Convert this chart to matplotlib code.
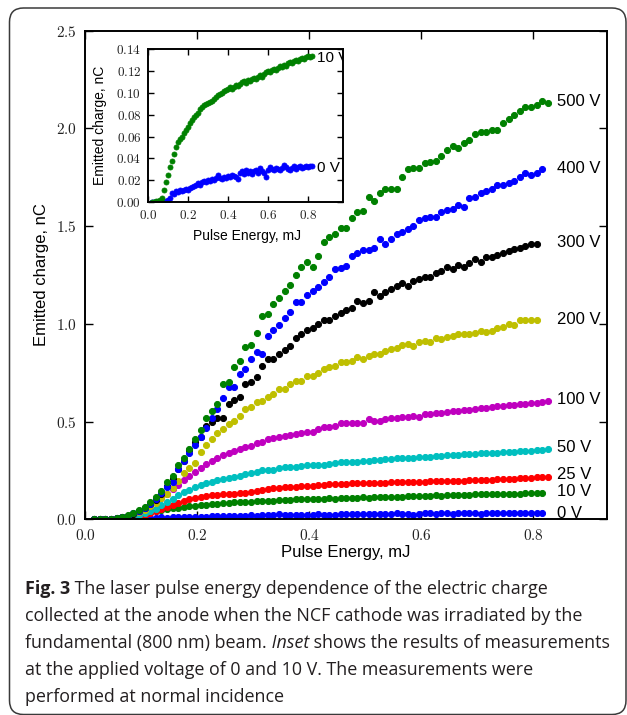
import matplotlib
matplotlib.use('Agg')
import matplotlib.pyplot as plt
from matplotlib.patches import FancyBboxPatch
from matplotlib.transforms import IdentityTransform
from matplotlib.ticker import FixedLocator, FuncFormatter

plt.rcParams['mathtext.fontset'] = 'cm'
SANS = 'Liberation Sans'
CAP = 'Open Sans'

# ---------------- data ----------------
energy_mj = [0.016, 0.026, 0.036, 0.046, 0.056, 0.066, 0.076, 0.086, 0.096, 0.106,
             0.116, 0.126, 0.136, 0.146, 0.156, 0.166, 0.176, 0.186, 0.196, 0.206,
             0.216, 0.226, 0.236, 0.246, 0.256, 0.266, 0.276, 0.286, 0.296, 0.306,
             0.316, 0.326, 0.336, 0.346, 0.356, 0.366, 0.376, 0.386, 0.396, 0.406,
             0.416, 0.426, 0.436, 0.446, 0.456, 0.466, 0.476, 0.486, 0.496, 0.506,
             0.516, 0.526, 0.536, 0.546, 0.556, 0.566, 0.576, 0.586, 0.596, 0.606,
             0.616, 0.626, 0.636, 0.646, 0.656, 0.666, 0.676, 0.686, 0.696, 0.706,
             0.716, 0.726, 0.736, 0.746, 0.756, 0.766, 0.776, 0.786, 0.796, 0.806,
             0.816, 0.826]

q_0V = [0.0, 0.0, 0.0, 0.0, 0.0, 0.0, 0.0, 0.001,
        0.002, 0.004, 0.008, 0.007, 0.010, 0.009, 0.011, 0.010, 0.011, 0.012,
        0.011, 0.013, 0.014, 0.015, 0.016, 0.017, 0.016, 0.018, 0.019, 0.018,
        0.020, 0.019, 0.021, 0.020, 0.022, 0.025, 0.022, 0.021, 0.023, 0.022,
        0.024, 0.023, 0.025, 0.024, 0.023, 0.021, 0.027, 0.028, 0.026, 0.029,
        0.027, 0.028, 0.026, 0.028, 0.029, 0.027, 0.031, 0.028, 0.027, 0.023,
        0.029, 0.032, 0.030, 0.029, 0.031, 0.030, 0.029, 0.031, 0.034, 0.032,
        0.030, 0.029, 0.031, 0.033, 0.030, 0.032, 0.033, 0.031, 0.032, 0.033,
        0.032, 0.033, 0.033]

q_10V = [0.0, 0.0, 0.001, 0.001, 0.002, 0.004, 0.011, 0.018,
         0.025, 0.032, 0.038, 0.044, 0.050, 0.055, 0.058, 0.060, 0.063, 0.066,
         0.069, 0.072, 0.075, 0.078, 0.080, 0.082, 0.085, 0.087, 0.089, 0.090,
         0.091, 0.092, 0.093, 0.094, 0.096, 0.098, 0.099, 0.100, 0.102, 0.103,
         0.104, 0.105, 0.104, 0.105, 0.107, 0.106, 0.108, 0.110, 0.111, 0.109,
         0.112, 0.111, 0.113, 0.114, 0.113, 0.115, 0.116, 0.115, 0.117, 0.119,
         0.120, 0.119, 0.121, 0.122, 0.121, 0.123, 0.125, 0.124, 0.126, 0.125,
         0.127, 0.128, 0.127, 0.129, 0.130, 0.129, 0.131, 0.132, 0.131, 0.133,
         0.134, 0.133, 0.134]

q_25V = [0.0, 0.0, 0.0, 0.001, 0.002, 0.004, 0.007, 0.011,
         0.017, 0.024, 0.032, 0.042, 0.053, 0.064, 0.075, 0.085, 0.095, 0.103,
         0.110, 0.116, 0.120, 0.123, 0.126, 0.128, 0.130, 0.132, 0.134, 0.136,
         0.138, 0.145, 0.150, 0.153, 0.159, 0.162, 0.164, 0.167, 0.167, 0.170,
         0.172, 0.172, 0.176, 0.176, 0.179, 0.179, 0.181, 0.181, 0.184, 0.184,
         0.184, 0.187, 0.184, 0.187, 0.187, 0.189, 0.189, 0.192, 0.192, 0.192,
         0.192, 0.192, 0.194, 0.195, 0.195, 0.197, 0.197, 0.198, 0.198, 0.200,
         0.200, 0.201, 0.202, 0.203, 0.205, 0.205, 0.207, 0.208, 0.209, 0.211,
         0.213, 0.214, 0.215, 0.218]

q_50V = [0.0, 0.0, 0.001, 0.002, 0.004, 0.007, 0.011, 0.016,
         0.023, 0.032, 0.043, 0.055, 0.072, 0.088, 0.105, 0.122, 0.138, 0.152,
         0.165, 0.176, 0.185, 0.193, 0.200, 0.206, 0.212, 0.218, 0.224, 0.230,
         0.235, 0.244, 0.250, 0.252, 0.252, 0.261, 0.266, 0.266, 0.269, 0.272,
         0.278, 0.278, 0.278, 0.278, 0.281, 0.290, 0.291, 0.291, 0.295, 0.295,
         0.298, 0.298, 0.303, 0.303, 0.307, 0.307, 0.312, 0.312, 0.315, 0.315,
         0.317, 0.317, 0.320, 0.324, 0.324, 0.327, 0.329, 0.331, 0.334, 0.335,
         0.336, 0.337, 0.339, 0.340, 0.341, 0.343, 0.344, 0.346, 0.348, 0.350,
         0.351, 0.353, 0.355, 0.360]

q_100V = [0.0, 0.0, 0.001, 0.003, 0.006, 0.010, 0.017, 0.026,
          0.038, 0.053, 0.070, 0.090, 0.110, 0.132, 0.155, 0.178, 0.200, 0.222,
          0.243, 0.263, 0.283, 0.300, 0.315, 0.328, 0.340, 0.350, 0.360, 0.368,
          0.375, 0.389, 0.397, 0.411, 0.414, 0.420, 0.426, 0.431, 0.437, 0.443,
          0.448, 0.448, 0.460, 0.474, 0.474, 0.479, 0.491, 0.491, 0.494, 0.494,
          0.494, 0.512, 0.505, 0.505, 0.512, 0.517, 0.520, 0.522, 0.525, 0.529,
          0.522, 0.537, 0.538, 0.544, 0.546, 0.549, 0.554, 0.556, 0.559, 0.559,
          0.564, 0.568, 0.571, 0.573, 0.578, 0.580, 0.583, 0.585, 0.588, 0.590,
          0.594, 0.597, 0.599, 0.605]

q_200V = [0.0, 0.0, 0.002, 0.004, 0.007, 0.011, 0.017, 0.026,
          0.037, 0.050, 0.066, 0.085, 0.107, 0.130, 0.160, 0.195, 0.235, 0.265,
          0.290, 0.343, 0.380, 0.409, 0.443, 0.462, 0.486, 0.503, 0.529, 0.563,
          0.576, 0.600, 0.607, 0.627, 0.643, 0.665, 0.666, 0.691, 0.708, 0.709,
          0.731, 0.732, 0.748, 0.768, 0.781, 0.785, 0.807, 0.803, 0.810, 0.832,
          0.820, 0.836, 0.846, 0.846, 0.863, 0.872, 0.875, 0.892, 0.897, 0.888,
          0.909, 0.914, 0.906, 0.926, 0.923, 0.935, 0.940, 0.947, 0.947, 0.948,
          0.955, 0.965, 0.960, 0.962, 0.977, 0.986, 0.998, 0.993, 1.020, 1.020,
          1.020, 1.020]

q_300V = [0.0, 0.0, 0.002, 0.004, 0.007, 0.011, 0.018, 0.028,
          0.040, 0.056, 0.078, 0.100, 0.130, 0.170, 0.210, 0.255, 0.300, 0.355,
          0.397, 0.423, 0.477, 0.500, 0.517, 0.517, 0.590, 0.610, 0.627, 0.690,
          0.700, 0.730, 0.786, 0.819, 0.819, 0.846, 0.868, 0.888, 0.926, 0.948,
          0.967, 0.978, 0.998, 1.020, 1.020, 1.042, 1.054, 1.071, 1.083, 1.119,
          1.108, 1.119, 1.162, 1.143, 1.162, 1.179, 1.196, 1.208, 1.196, 1.221,
          1.230, 1.238, 1.242, 1.259, 1.271, 1.290, 1.279, 1.301, 1.290, 1.310,
          1.331, 1.318, 1.341, 1.341, 1.351, 1.361, 1.371, 1.383, 1.390, 1.400,
          1.409, 1.409]

q_400V = [0.0, 0.0, 0.002, 0.004, 0.007, 0.011, 0.018, 0.030,
          0.042, 0.058, 0.080, 0.105, 0.135, 0.165, 0.193, 0.256, 0.300, 0.340,
          0.380, 0.420, 0.469, 0.520, 0.565, 0.620, 0.676, 0.676, 0.742, 0.768,
          0.819, 0.858, 0.844, 0.936, 0.967, 0.994, 1.030, 1.060, 1.110, 1.110,
          1.150, 1.170, 1.190, 1.214, 1.238, 1.279, 1.285, 1.298, 1.349, 1.361,
          1.378, 1.378, 1.390, 1.433, 1.407, 1.433, 1.460, 1.472, 1.486, 1.500,
          1.532, 1.544, 1.549, 1.549, 1.571, 1.583, 1.590, 1.610, 1.600, 1.643,
          1.651, 1.671, 1.682, 1.692, 1.711, 1.709, 1.723, 1.731, 1.752, 1.774,
          1.760, 1.770, 1.790]

q_500V = [0.0, 0.0, 0.002, 0.004, 0.007, 0.012, 0.020, 0.034,
          0.046, 0.064, 0.089, 0.116, 0.145, 0.193, 0.223, 0.279, 0.315, 0.360,
          0.413, 0.459, 0.517, 0.554, 0.592, 0.692, 0.704, 0.778, 0.810, 0.880,
          0.892, 0.952, 1.040, 1.050, 1.100, 1.130, 1.170, 1.200, 1.250, 1.290,
          1.318, 1.290, 1.349, 1.418, 1.446, 1.460, 1.490, 1.490, 1.540, 1.570,
          1.578, 1.651, 1.630, 1.668, 1.690, 1.690, 1.690, 1.750, 1.790, 1.800,
          1.800, 1.825, 1.830, 1.834, 1.860, 1.890, 1.910, 1.900, 1.924, 1.940,
          1.970, 1.980, 1.980, 1.990, 1.990, 2.030, 2.050, 2.070, 2.090, 2.110,
          2.110, 2.120, 2.140, 2.130]

series_labels = ['0 V', '10 V', '25 V', '50 V', '100 V', '200 V', '300 V', '400 V', '500 V']
series_values = [q_0V, q_10V, q_25V, q_50V, q_100V, q_200V, q_300V, q_400V, q_500V]
series_colors = ['b', 'g', 'r', 'c', 'm', 'y', 'k', 'b', 'g']
label_y = [0.032, 0.14, 0.227, 0.365, 0.611, 1.02, 1.414, 1.793, 2.136]

inset_labels = ['0 V', '10 V']
inset_values = [q_0V, q_10V]
inset_colors = ['b', 'g']
inset_label_y = [0.031, 0.1318]

main_xticks = [0.0, 0.2, 0.4, 0.6, 0.8]
main_yticks = [0.0, 0.5, 1.0, 1.5, 2.0, 2.5]
inset_xticks = [0.0, 0.2, 0.4, 0.6, 0.8]
inset_yticks = [0.00, 0.02, 0.04, 0.06, 0.08, 0.10, 0.12, 0.14]

caption_lines = [
    [("Fig. 3", "bold", "normal"), (" The laser pulse energy dependence of the electric charge", "normal", "normal")],
    [("collected at the anode when the NCF cathode was irradiated by the", "normal", "normal")],
    [("fundamental (800 nm) beam.", "normal", "normal"), (" Inset", "normal", "italic"),
     (" shows the results of measurements", "normal", "normal")],
    [("at the applied voltage of 0 and 10 V. The measurements were", "normal", "normal")],
    [("performed at normal incidence", "normal", "normal")],
]

# ---------------- figure ----------------
W, H = 627, 715
fig = plt.figure(figsize=(W / 100, H / 100), dpi=100)
fig.patch.set_facecolor('white')

# rounded frame
frame = FancyBboxPatch((9.5, 0.5), 616.5, 706.5,
                       boxstyle='round,pad=0,rounding_size=14',
                       transform=IdentityTransform(), fill=False,
                       ec='#3a3a3a', lw=1.1)
fig.add_artist(frame)

ax = fig.add_axes([85.3 / W, 1 - 519.3 / H, (606.7 - 85.3) / W, (519.3 - 30.7) / H])
for lab, vals, col, ly in zip(series_labels, series_values, series_colors, label_y):
    ax.plot(energy_mj[:len(vals)], vals, 'o', color=col, mec=col, ms=4.4, mew=0.7)
    ax.text(0.842, ly, lab, fontsize=12, family=SANS, va='center', ha='left')

ax.set_xlim(0, 0.931)
ax.set_ylim(0, 2.5)
ax.xaxis.set_major_locator(FixedLocator(main_xticks))
ax.yaxis.set_major_locator(FixedLocator(main_yticks))
ax.xaxis.set_major_formatter(FuncFormatter(lambda v, p: r'$%.1f$' % v))
ax.yaxis.set_major_formatter(FuncFormatter(lambda v, p: r'$%.1f$' % v))
ax.tick_params(direction='in', top=True, right=True, length=6, width=1,
               labelsize=11, pad=6, colors='black', labelcolor='#222222')
for s in ax.spines.values():
    s.set_linewidth(1.4)
ax.set_xlabel('Pulse Energy, mJ', fontsize=12, family=SANS, va='center')
ax.xaxis.set_label_coords(0.5, (519.3 - 552) / 488.6)
ax.set_ylabel('Emitted charge, nC', fontsize=12, family=SANS, va='center')
ax.yaxis.set_label_coords((42 - 85.3) / 521.4, 0.5)

# inset
axi = fig.add_axes([148.3 / W, 1 - 202 / H, (343.3 - 148.3) / W, (202 - 49.3) / H])
axi.set_facecolor('white')
for lab, vals, col, ly in zip(inset_labels, inset_values, inset_colors, inset_label_y):
    axi.plot(energy_mj[:len(vals)], vals, 'o', color=col, mec=col, ms=3.6, mew=0.6)
    axi.text(0.842, ly, lab, fontsize=11, family=SANS, va='center', ha='left', clip_on=True)
axi.set_xlim(0, 0.975)
axi.set_ylim(0, 0.14)
axi.xaxis.set_major_locator(FixedLocator(inset_xticks))
axi.yaxis.set_major_locator(FixedLocator(inset_yticks))
axi.xaxis.set_major_formatter(FuncFormatter(lambda v, p: r'$%.1f$' % v))
axi.yaxis.set_major_formatter(FuncFormatter(lambda v, p: r'$%.2f$' % v))
axi.tick_params(direction='in', top=True, right=True, length=4.5, width=1,
                labelsize=9.5, pad=5, labelcolor='#222222')
for s in axi.spines.values():
    s.set_linewidth(1.4)
axi.set_xlabel('Pulse Energy, mJ', fontsize=10, family=SANS, va='center')
axi.xaxis.set_label_coords((247 - 148.3) / 195, (202 - 235.7) / 152.7)
axi.set_ylabel('Emitted charge, nC', fontsize=10, family=SANS, va='center')
axi.yaxis.set_label_coords((100 - 148.3) / 195, 0.5)

# caption
renderer = fig.canvas.get_renderer()
probe = fig.text(0, 0, ''.join(s[0] for s in caption_lines[2]), fontsize=10, family=CAP)
pw = probe.get_window_extent(renderer=renderer).width
probe.remove()
cap_size = 10 * 592.0 / pw
line_y = [589, 616, 643, 670, 697]
for segs, yc in zip(caption_lines, line_y):
    x = 25.0
    for txt, wt, st in segs:
        t = fig.text(x / W, 1 - yc / H, txt, fontsize=cap_size, family=CAP,
                     weight=wt, style=st, va='center', ha='left', color='#231f20')
        x += t.get_window_extent(renderer=renderer).width

fig.savefig('out.png', dpi=100)
